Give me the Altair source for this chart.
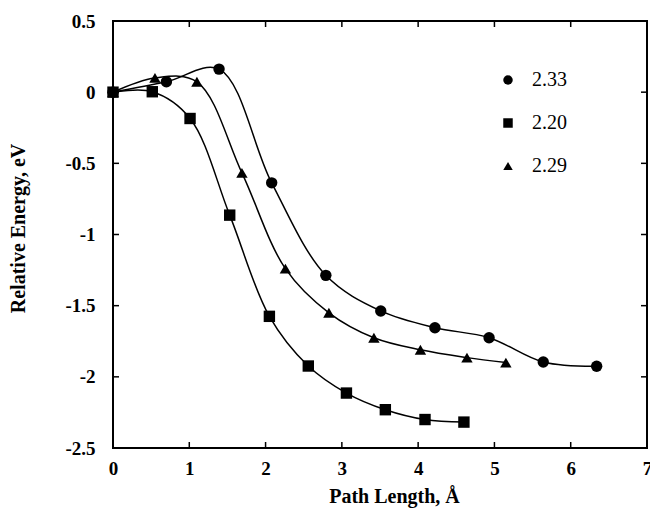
import altair as alt
import pandas as pd

# ---- data ----
series_order = ["2.33", "2.20", "2.29"]

x_233 = [0, 0.70, 1.39, 2.08, 2.79, 3.51, 4.22, 4.93, 5.64, 6.34]
y_233 = [0, 0.073, 0.162, -0.637, -1.287, -1.537, -1.655, -1.725, -1.896, -1.926]

x_229 = [0, 0.55, 1.10, 1.69, 2.26, 2.83, 3.42, 4.03, 4.64, 5.15]
y_229 = [0, 0.100, 0.073, -0.567, -1.240, -1.550, -1.725, -1.810, -1.865, -1.900]

x_220 = [0, 0.515, 1.01, 1.53, 2.05, 2.56, 3.06, 3.57, 4.09, 4.60]
y_220 = [0, 0.003, -0.185, -0.864, -1.575, -1.924, -2.114, -2.231, -2.300, -2.318]

x_tick_values = [0, 1, 2, 3, 4, 5, 6, 7]
y_tick_values = [0.5, 0, -0.5, -1, -1.5, -2, -2.5]
x_inner_ticks = [1, 2, 3, 4, 5, 6]
y_inner_ticks = [0, -0.5, -1, -1.5, -2]

rows = []
for name, xs, ys in [("2.33", x_233, y_233), ("2.29", x_229, y_229), ("2.20", x_220, y_220)]:
    for i, (a, b) in enumerate(zip(xs, ys)):
        rows.append({"series": name, "x": a, "y": b, "order": i})
df = pd.DataFrame(rows)

xt = pd.DataFrame({"x": x_inner_ticks})
yt = pd.DataFrame({"y": y_inner_ticks})

W, H = 534, 427
FONT = "Liberation Serif"

xscale = alt.Scale(domain=[0, 7], nice=False, zero=False)
yscale = alt.Scale(domain=[-2.5, 0.5], nice=False, zero=False)

xaxis = alt.Axis(values=x_tick_values, labelExpr="toString(datum.value)",
                 labelPadding=11, labelFlush=False,
                 title="Path Length, Å", titleFontSize=20,
                 titleX=281, titleY=48, titleBaseline="middle", titleAnchor="start",
                 titleAlign="center")
yaxis = alt.Axis(values=y_tick_values, labelExpr="toString(datum.value)",
                 labelPadding=18, labelFlush=False,
                 title="Relative Energy, eV", titleFontSize=20,
                 titleX=-95, titleY=207, titleBaseline="middle", titleAnchor="start",
                 titleAlign="center", titleAngle=-90)

base = alt.Chart(df)

lines = base.mark_line(interpolate="catmull-rom", color="black", strokeWidth=1.5).encode(
    x=alt.X("x:Q", scale=xscale, axis=xaxis),
    y=alt.Y("y:Q", scale=yscale, axis=yaxis),
    detail="series:N",
    order="order:Q",
)

points = base.mark_point(filled=True, color="black", opacity=1, size=130).encode(
    x=alt.X("x:Q", scale=xscale, axis=xaxis),
    y=alt.Y("y:Q", scale=yscale, axis=yaxis),
    shape=alt.Shape("series:N",
                    scale=alt.Scale(domain=series_order, range=["circle", "square", "triangle-up"]),
                    legend=alt.Legend(title=None, orient="none", legendX=385, legendY=49,
                                      labelFontSize=20, labelColor="black",
                                      symbolFillColor="black", symbolStrokeColor="black",
                                      symbolSize=90, symbolStrokeWidth=0, rowPadding=23,
                                      labelOffset=14)),
)

top_ticks = alt.Chart(xt).mark_rule(color="black", strokeWidth=1.5).encode(
    x=alt.X("x:Q", scale=xscale, axis=xaxis), y=alt.value(0), y2=alt.value(6))
bottom_ticks = alt.Chart(xt).mark_rule(color="black", strokeWidth=1.5).encode(
    x=alt.X("x:Q", scale=xscale, axis=xaxis), y=alt.value(H), y2=alt.value(H - 6))
left_ticks = alt.Chart(yt).mark_rule(color="black", strokeWidth=1.5).encode(
    y=alt.Y("y:Q", scale=yscale, axis=yaxis), x=alt.value(0), x2=alt.value(6))
right_ticks = alt.Chart(yt).mark_rule(color="black", strokeWidth=1.5).encode(
    y=alt.Y("y:Q", scale=yscale, axis=yaxis), x=alt.value(W), x2=alt.value(W - 6))

chart = alt.layer(lines, points, top_ticks, bottom_ticks, left_ticks, right_ticks).properties(
    width=W, height=H,
    autosize=alt.AutoSizeParams(type="none"),
    padding={"left": 113, "top": 21, "right": 3, "bottom": 62},
    background="white",
).configure_axis(
    ticks=False, domain=False, grid=False,
    labelFont=FONT, labelFontWeight="bold", labelFontSize=19, labelColor="black",
    titleFont=FONT, titleFontWeight="bold", titleColor="black",
).configure_legend(
    labelFont=FONT,
).configure_view(stroke="black", strokeWidth=2)

chart.save("out.html", embed_options={"renderer": "svg", "actions": False})
